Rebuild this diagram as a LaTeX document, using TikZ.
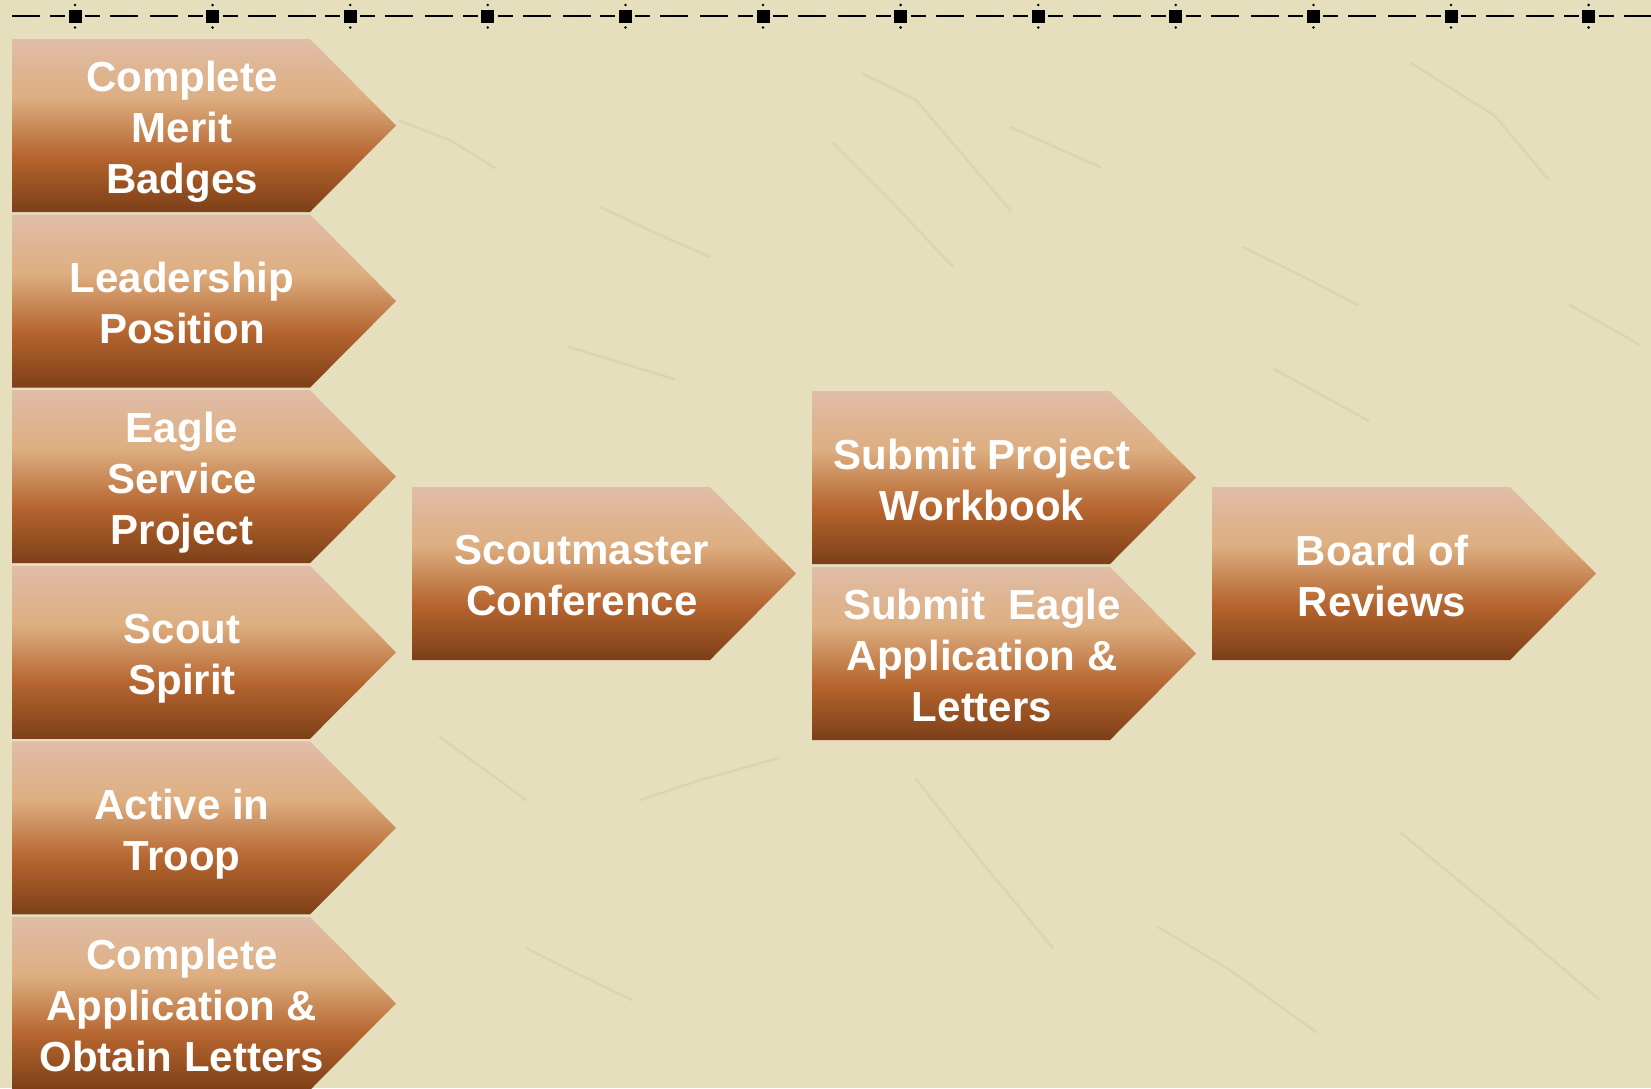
\documentclass[tikz,border=0pt]{standalone}
\usepackage{fontspec}
\setmainfont{Liberation Sans}
\usetikzlibrary{positioning}
\definecolor{paper}{HTML}{E6DFBD}
\definecolor{crack}{HTML}{D3C9A2}
\definecolor{stepdark}{HTML}{7D3F17}
\definecolor{steprust}{HTML}{B5652F}
\definecolor{steptan}{HTML}{DDAE80}
\definecolor{steppink}{HTML}{E0BDA8}
\pgfdeclareverticalshading{stepshade}{100bp}{color(0bp)=(stepdark); color(25bp)=(stepdark); color(41bp)=(steprust); color(58bp)=(steptan); color(75bp)=(steppink); color(100bp)=(steppink)}
\tikzset{stepbox/.style={shading=stepshade,draw=none},
         steplabel/.style={text=white,align=center,inner sep=0pt,
                           font=\bfseries\fontsize{42}{51}\selectfont,
                           execute at begin node=\strut,execute at end node=\strut},
         ruledash/.style={line width=2.5pt,black},
         crackline/.style={crack,line width=2.5pt,line cap=round,opacity=.45}
}

\begin{document}
\begin{tikzpicture}[x=1pt,y=-1pt]

    \useasboundingbox (0,0) rectangle (1651,1088);
    \clip (0,0) rectangle (1651,1088);
    \fill[paper] (0,0) rectangle (1651,1088);

    % faint cracks in the paper
    \draw[crackline] (400,121) -- (450,140) -- (495,168);
    \draw[crackline] (863,74) -- (916,100) -- (967,160) -- (1011,211);
    \draw[crackline] (833,143) -- (890,200) -- (953,267);
    \draw[crackline] (600,207) -- (660,235) -- (710,257);
    \draw[crackline] (1010,127) -- (1100,167);
    \draw[crackline] (1411,63) -- (1495,116) -- (1548,179);
    \draw[crackline] (1243,247) -- (1300,275) -- (1358,305);
    \draw[crackline] (569,347) -- (674,379);
    \draw[crackline] (1274,369) -- (1369,421);
    \draw[crackline] (1570,305) -- (1640,345);
    \draw[crackline] (640,800) -- (700,780) -- (779,758);
    \draw[crackline] (916,779) -- (980,860) -- (1053,948);
    \draw[crackline] (1400,832) -- (1500,915) -- (1600,1000);
    \draw[crackline] (1158,927) -- (1230,970) -- (1316,1032);
    \draw[crackline] (526,948) -- (580,975) -- (632,1000);
    \draw[crackline] (440,737) -- (526,800);

    % dashed rule along the top
    \draw[ruledash] (12,16) -- (40,16);
    \foreach \k in {0,...,11}{
        \pgfmathsetmacro\c{75+137.6*\k}
        \draw[ruledash] (\c-25,16) -- (\c-10,16);
        \draw[ruledash] (\c+10,16) -- (\c+25,16);
        \draw[ruledash] (\c+35,16) -- (\c+63,16);
        \draw[ruledash] (\c+75,16) -- (\c+103,16);
        \fill (\c-6.5,9.5) rectangle (\c+6.5,22.5);
        \fill (\c,5) circle (1.4);
        \fill (\c,27.5) circle (1.4);
    }

    % the steps
    \foreach \name/\x/\y/\txt in {
        merit/12/39/{Complete\\Merit\\Badges},
        leader/12/214.6/{Leadership\\Position},
        service/12/390.2/{Eagle\\Service\\Project},
        spirit/12/565.8/{Scout\\Spirit},
        active/12/741.4/{Active in\\Troop},
        apply/12/917/{Complete\\Application \&\\Obtain Letters},
        conference/412/487/{Scoutmaster\\Conference},
        workbook/812/391/{Submit Project\\Workbook},
        eagleapp/812/567/{Submit\ \ Eagle\\Application \&\\Letters},
        board/1212/487/{Board of\\Reviews}}{
        \path[stepbox] (\x,\y) -- ++(298,0) -- ++(86,86.5) -- ++(-86,86.5) -- ++(-298,0) -- cycle;
        \node[steplabel] (\name) at (\x+170,\y+96) {\txt};
    }

\end{tikzpicture}
\end{document}
